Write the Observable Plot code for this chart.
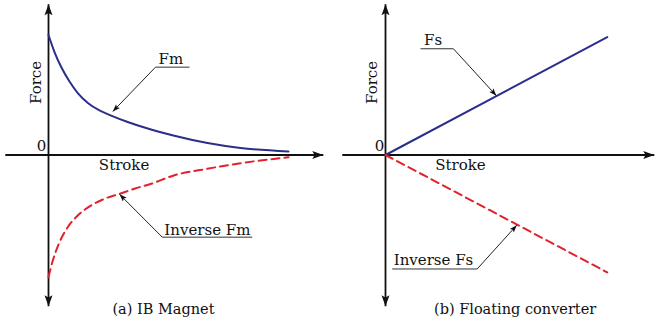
<!DOCTYPE html>
<html><head><meta charset="utf-8">
<script src="https://cdn.jsdelivr.net/npm/d3@7"></script>
<script src="https://cdn.jsdelivr.net/npm/@observablehq/plot@0.6"></script>
<style>
html,body{margin:0;padding:0;background:#fff;}
#wrap{display:flex;width:655px;height:321px;}
#wrap svg{display:block;}
</style></head><body><div id="wrap"></div>
<script>
// ---- Panel (a) IB Magnet (arbitrary units) ----
const fmStroke = [0, 0.25, 0.53, 0.875, 1.22, 1.64, 2.125, 2.61, 3.3, 4.0, 5.2, 6.625, 8.0, 10];
const fmForce = [9.92, 8.51, 7.27, 6.07, 5.12, 4.30, 3.68, 3.26, 2.73, 2.27, 1.61, 0.99, 0.58, 0.29];
const invFmStroke = [0, 0.18, 0.46, 0.80, 1.22, 1.78, 2.33, 2.96, 3.58, 4.28, 5.22, 6.61, 8.0, 10];
const invFmForce = [-10.08, -8.72, -7.21, -5.97, -5.0, -4.17, -3.62, -3.21, -2.79, -2.38, -1.69, -1.14, -0.68, -0.18];
// ---- Panel (b) Floating converter ----
const fsStroke = [0, 9.24];
const fsForce = [0, 9.75];
const invFsForce = [0, -9.7];

const captions = ["(a) IB Magnet", "(b) Floating converter"];
const axisLabels = ["Force", "Stroke", "0"];
const curveLabels = [["Fm", "Inverse Fm"], ["Fs", "Inverse Fs"]];

const BLUE = "#2b2e8a", RED = "#e3202b", INK = "#111";
const FONT = "DejaVu Serif";
const H = 321, ORIGIN_Y = 154.5, PX_X = 24, PX_Y = 12.1;

// filled arrowhead pointing up, tip at the anchor point
const arrowHead = {
  draw(ctx, size) {
    const r = Math.sqrt(size / Math.PI);
    ctx.moveTo(0, 0);
    ctx.lineTo(r * 0.8, r * 2.2);
    ctx.lineTo(0, r * 1.75);
    ctx.lineTo(-r * 0.8, r * 2.2);
    ctx.closePath();
  }
};

function panel(cfg) {
  const {width, originX, strokeAxis, curves, notes, caption} = cfg;
  const forceAxis = [-12.5, 12.45];
  const axes = [
    {x1: strokeAxis[0], y1: 0, x2: strokeAxis[1], y2: 0},
    {x1: 0, y1: forceAxis[0], x2: 0, y2: forceAxis[1]}
  ];
  const heads = [
    {x: strokeAxis[1], y: 0, a: 90},
    {x: 0, y: forceAxis[1], a: 0},
    {x: 0, y: forceAxis[0], a: 180}
  ];
  const marks = [
    Plot.link(axes, {x1: "x1", y1: "y1", x2: "x2", y2: "y2", stroke: INK, strokeWidth: 1.8}),
    Plot.dot(heads, {x: "x", y: "y", rotate: "a", symbol: arrowHead, r: 5, fill: INK, stroke: "none"})
  ];
  for (const c of curves) {
    marks.push(Plot.line(c.data, {x: "s", y: "f", stroke: c.color, strokeWidth: 2,
      strokeDasharray: c.dash, curve: c.curve}));
  }
  for (const n of notes) {
    const fx = n.fromRight ? n.ux2 : n.ux1;
    const ang = Math.atan2((n.tx - fx) * PX_X, (n.ty - n.uy) * PX_Y) * 180 / Math.PI;
    const leader = {...n, fx, ang};
    marks.push(Plot.link([leader], {x1: "ux1", x2: "ux2", y1: "uy", y2: "uy", stroke: "#333", strokeWidth: 1}));
    marks.push(Plot.link([leader], {x1: "fx", y1: "uy", x2: "tx", y2: "ty", stroke: "#222", strokeWidth: 1}));
    marks.push(Plot.dot([leader], {x: "tx", y: "ty", rotate: "ang", symbol: arrowHead, r: 3.4, fill: "#111", stroke: "none"}));
    marks.push(Plot.text([leader], {x: "lx", y: "ly", text: "label", fontSize: 15, fill: INK,
      textAnchor: "middle", lineAnchor: "bottom"}));
  }
  marks.push(
    Plot.text([axisLabels[0]], {x: cfg.forceLabel[0], y: cfg.forceLabel[1], text: d => d, rotate: -90,
      fontSize: 15, fill: INK, textAnchor: "middle"}),
    Plot.text([axisLabels[1]], {x: cfg.strokeLabel[0], y: cfg.strokeLabel[1], text: d => d,
      fontSize: 15, fill: INK, textAnchor: "middle", lineAnchor: "bottom"}),
    Plot.text([axisLabels[2]], {x: cfg.zeroLabel[0], y: cfg.zeroLabel[1], text: d => d,
      fontSize: 15, fill: INK, textAnchor: "middle", lineAnchor: "bottom"}),
    Plot.text([caption], {x: cfg.captionPos[0], y: cfg.captionPos[1], text: d => d,
      fontSize: 14.5, fill: INK, textAnchor: "middle", lineAnchor: "bottom"})
  );
  return Plot.plot({
    width, height: H,
    margin: 0,
    style: {fontFamily: FONT, background: "#fff", overflow: "visible"},
    x: {domain: [-originX / PX_X, (width - originX) / PX_X], axis: null},
    y: {domain: [-(H - ORIGIN_Y) / PX_Y, ORIGIN_Y / PX_Y], axis: null},
    marks
  });
}

const wrap = document.getElementById("wrap");

wrap.append(panel({
  width: 330, originX: 48, strokeAxis: [-1.8, 11.45],
  curves: [
    {data: fmStroke.map((s, i) => ({s, f: fmForce[i]})), color: BLUE, curve: "monotone-x"},
    {data: invFmStroke.map((s, i) => ({s, f: invFmForce[i]})), color: RED, dash: "8,5", curve: "monotone-x"}
  ],
  notes: [
    {label: curveLabels[0][0], lx: 5.1, ly: 7.5, ux1: 4.46, ux2: 5.875, uy: 7.26, tx: 2.68, ty: 3.6},
    {label: curveLabels[0][1], lx: 6.62, ly: -6.6, ux1: 4.74, ux2: 8.49, uy: -6.79, tx: 2.96, ty: -3.25}
  ],
  forceLabel: [-0.5, 6.0], strokeLabel: [3.15, -1.28], zeroLabel: [-0.29, 0.3],
  captionPos: [4.79, -13.1], caption: captions[0]
}));

wrap.append(panel({
  width: 325, originX: 55, strokeAxis: [-1.8, 11.2],
  curves: [
    {data: fsStroke.map((s, i) => ({s, f: fsForce[i]})), color: BLUE, curve: "linear"},
    {data: fsStroke.map((s, i) => ({s, f: invFsForce[i]})), color: RED, dash: "8,5", curve: "linear"}
  ],
  notes: [
    {label: curveLabels[1][0], lx: 1.98, ly: 9.05, ux1: 1.46, ux2: 2.83, uy: 8.78, tx: 4.62, ty: 4.9, fromRight: true},
    {label: curveLabels[1][1], lx: 2.0, ly: -9.13, ux1: 0.28, ux2: 3.82, uy: -9.42, tx: 5.47, ty: -5.8, fromRight: true}
  ],
  forceLabel: [-0.54, 6.0], strokeLabel: [3.125, -1.28], zeroLabel: [-0.25, 0.3],
  captionPos: [5.4, -13.1], caption: captions[1]
}));
</script></body></html>
